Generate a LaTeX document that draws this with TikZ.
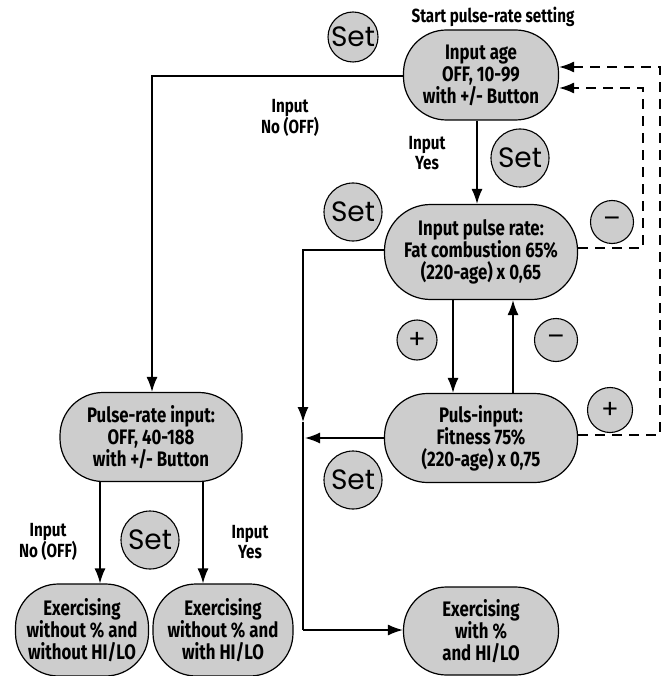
\documentclass[tikz,border=0pt]{standalone}
\usepackage{fontspec}
\setmainfont{Fira Sans}
\newfontfamily\cond[FakeStretch=0.8]{Fira Sans}
\newfontfamily\geo{Poppins}
\usetikzlibrary{arrows.meta}
\definecolor{fillg}{RGB}{205,205,205}
\begin{document}
\begin{tikzpicture}[x=1pt,y=-1pt,
 box/.style={draw,line width=1.2pt,fill=fillg,rounded corners=43pt,align=center,font=\cond\bfseries\fontsize{21}{22}\selectfont,inner sep=0pt},
 circ/.style={draw,line width=1.1pt,fill=fillg,circle,minimum size=#1,inner sep=0pt,font=\geo\fontsize{28}{28}\selectfont},
 circ/.default=58pt,
 pm/.style={circ=#1,font=\geo\fontsize{26}{26}\selectfont},
 lab/.style={align=center,font=\cond\bfseries\fontsize{19}{20}\selectfont},
 arr/.style={line width=1.4pt,-{Latex[length=15pt,width=11pt]}},
 dsh/.style={line width=1.4pt,dash pattern=on 10pt off 7pt,-{Latex[length=15pt,width=11pt]}}]
\useasboundingbox (0,0) rectangle (665,676);
\node[lab] (title) at (493,17) {Start pulse-rate setting};
\node[box,minimum width=155pt,minimum height=90pt] (age) at (481,75) {Input age\\OFF, 10-99\\with +/- Button};
\node[box,minimum width=193pt,minimum height=95pt,rounded corners=46pt] (pr) at (481,252) {Input pulse rate:\\Fat combustion 65\%\\(220-age) x 0,65};
\node[box,minimum width=193pt,minimum height=89pt] (pi) at (481,438) {Puls-input:\\Fitness 75\%\\(220-age) x 0,75};
\node[box,minimum width=182pt,minimum height=89pt] (pri) at (151,437) {Pulse-rate input:\\OFF, 40-188\\with +/- Button};
\node[box,minimum width=133pt,minimum height=92pt] (e1) at (82,630) {Exercising\\without \% and\\without HI/LO};
\node[box,minimum width=140pt,minimum height=92pt] (e2) at (223,630) {Exercising\\without \% and\\with HI/LO};
\node[box,minimum width=155pt,minimum height=88pt] (e3) at (481,631) {Exercising\\with \%\\and HI/LO};
\node[circ=50pt] (s1) at (353,37) {Set};
\node[circ] (s2) at (520,158) {Set};
\node[circ] (s3) at (353,212) {Set};
\node[circ] (s4) at (353,480) {Set};
\node[circ] (s5) at (150,540) {Set};
\node[pm=43pt] (m1) at (612,222) {–};
\node[pm=40pt] (p1) at (417,340) {+};
\node[pm=43pt] (m2) at (556,340) {–};
\node[pm=45pt] (p2) at (610,410) {+};
\node[lab] (l1) at (290,118) {Input\\No (OFF)};
\node[lab] (l2) at (427,153) {Input\\Yes};
\node[lab] (l3) at (48,542) {Input\\No (OFF)};
\node[lab] (l4) at (250,542) {Input\\Yes};
\coordinate (j1) at (303,250);
\coordinate (jm) at (303,422);
\coordinate (j2) at (303,630);
\draw[arr] (age.west |- 0,76) -| (pri.north -| 152,0);
\draw[arr] (age.south -| 477,0) -- (pr.north -| 477,0);
\draw[arr] (pr.south -| 453,0) -- (pi.north -| 453,0);
\draw[arr] (pi.north -| 513,0) -- (pr.south -| 513,0);
\draw[arr] (pr.west |- j1) -- (j1) -- (jm);
\draw[line width=1.4pt] (jm) -- (j2);
\draw[arr] (j2) -- (e3.west |- j2);
\draw[arr] (pi.west) -- (305,438);
\draw[arr] (pri.south -| 100,0) -- (e1.north -| 100,0);
\draw[arr] (pri.south -| 203,0) -- (e2.north -| 203,0);
\draw[dsh] (pr.east |- 0,248) -- (643,248) -- (643,88) -- (age.east |- 0,88);
\draw[dsh] (pi.east |- 0,435) -- (660,435) -- (660,67) -- (age.east |- 0,67);
\end{tikzpicture}
\end{document}
